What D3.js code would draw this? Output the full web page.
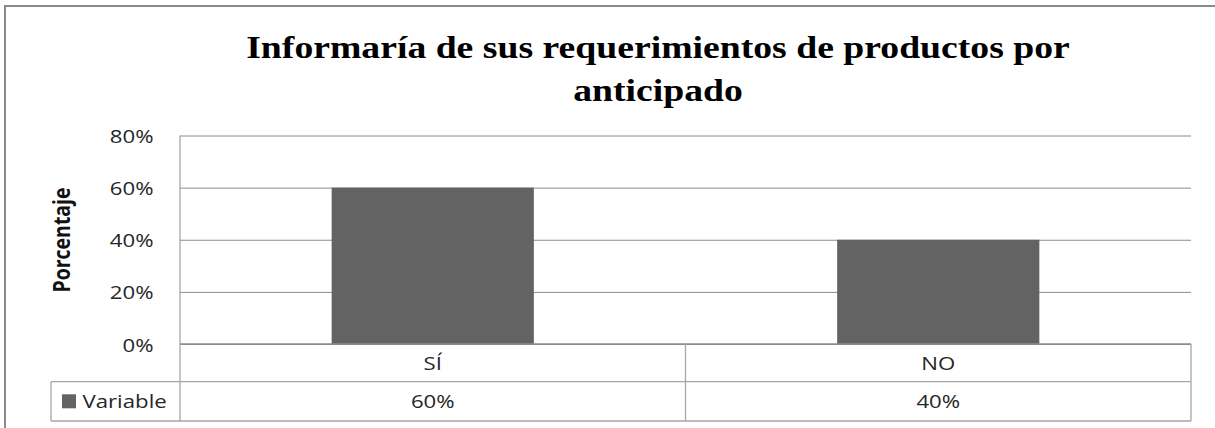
<!DOCTYPE html>
<html><head><meta charset="utf-8">
<script src="https://cdn.jsdelivr.net/npm/d3@7"></script>
<style>body{margin:0;background:#fff}svg{display:block}</style>
</head><body>
<svg id="c" width="1215" height="428"></svg>
<script>
const titleLines = ["Informaría de sus requerimientos de productos por", "anticipado"];
const categories = ["SÍ", "NO"];
const values = [0.60, 0.40];
const seriesName = "Variable";
const yTicks = [0, 0.2, 0.4, 0.6, 0.8];
const yTitle = "Porcentaje";

const svg = d3.select("#c");
const L = 180, R = 1191, T = 135.5, B = 344, row1 = 381.7, row2 = 421, legL = 51;
const grid = "#8c8c8c", tbl = "#a6a6a6", barCol = "#636363";
const sans = "'Open Sans', 'Noto Sans', sans-serif";
const fs = 18.5, sx = 1.2, txtCol = "#262626";

function label(parent, x, y, str, anchor, opts = {}) {
  const g = parent.append("g").attr("transform", `translate(${x},${y}) scale(${opts.sx || sx},1)${opts.rot ? " rotate(" + opts.rot + ")" : ""}`);
  return g.append("text").attr("x", 0).attr("y", 0).attr("text-anchor", anchor)
    .attr("font-family", opts.family || sans).attr("font-size", opts.size || fs)
    .attr("font-weight", opts.weight || "normal").attr("fill", opts.fill || txtCol).text(str);
}

// outer border
svg.append("rect").attr("x",5).attr("y",6).attr("width",1240).attr("height",440)
  .attr("fill","none").attr("stroke","#8a8a8a").attr("stroke-width",2);

const x = d3.scaleBand().domain(categories).range([L,R]).paddingInner(0).paddingOuter(0);
const y = d3.scaleLinear().domain([0,0.8]).range([B,T]);
const pct = d3.format(".0%");

// gridlines via axis
const ya = svg.append("g").attr("transform",`translate(${L},0)`)
  .call(d3.axisLeft(y).tickValues(yTicks).tickSize(-(R-L)).tickFormat(""));
ya.select(".domain").remove();
ya.selectAll(".tick line").attr("stroke",grid).attr("stroke-width",1);
ya.selectAll(".tick text").remove();
const tickG = svg.append("g");
yTicks.forEach(t => label(tickG, 153.5, y(t) + 7.6, pct(t), "end"));

// bars
const bw = x.bandwidth()*0.4;
svg.append("g").selectAll("rect").data(values).join("rect")
  .attr("x",(d,i)=>x(categories[i])+x.bandwidth()/2-bw/2)
  .attr("y",d=>y(d)).attr("width",bw).attr("height",d=>B-y(d)).attr("fill",barCol);

// table lines
const tl = svg.append("g").attr("stroke",tbl).attr("stroke-width",1.3).attr("fill","none");
tl.append("line").attr("x1",L).attr("x2",R).attr("y1",B).attr("y2",B).attr("stroke",grid);
tl.append("line").attr("x1",legL).attr("x2",R).attr("y1",row1).attr("y2",row1);
tl.append("line").attr("x1",legL).attr("x2",R).attr("y1",row2).attr("y2",row2);
tl.append("line").attr("x1",legL).attr("x2",legL).attr("y1",row1).attr("y2",row2);
tl.append("line").attr("x1",L).attr("x2",L).attr("y1",T).attr("y2",row2);
categories.forEach((c,i)=>{
  const xe = x(c)+x.bandwidth();
  tl.append("line").attr("x1",xe).attr("x2",xe).attr("y1",B).attr("y2",row2);
});

// category labels and values
const tg2 = svg.append("g");
categories.forEach((c,i)=>{
  const cx = x(c)+x.bandwidth()/2;
  label(tg2, cx, 369.8, c, "middle");
  label(tg2, cx, 408.3, pct(values[i]), "middle");
});

// legend cell
svg.append("rect").attr("x",62).attr("y",394.3).attr("width",14).attr("height",14).attr("fill",barCol);
label(svg, 82.5, 408.3, seriesName, "start");

// y title
label(svg, 69.5, 240, yTitle, "middle", {rot:-90, weight:"bold", size:19.5, fill:"#111"});

// title
const tg = svg.append("g");
titleLines.forEach((t,i)=>{
  label(tg, 658, 58.3 + i*43, t, "middle",
    {family:"'Liberation Serif', 'Times New Roman', serif", weight:"bold", size:32.5, sx:1.16, fill:"#000"});
});
</script>
</body></html>
